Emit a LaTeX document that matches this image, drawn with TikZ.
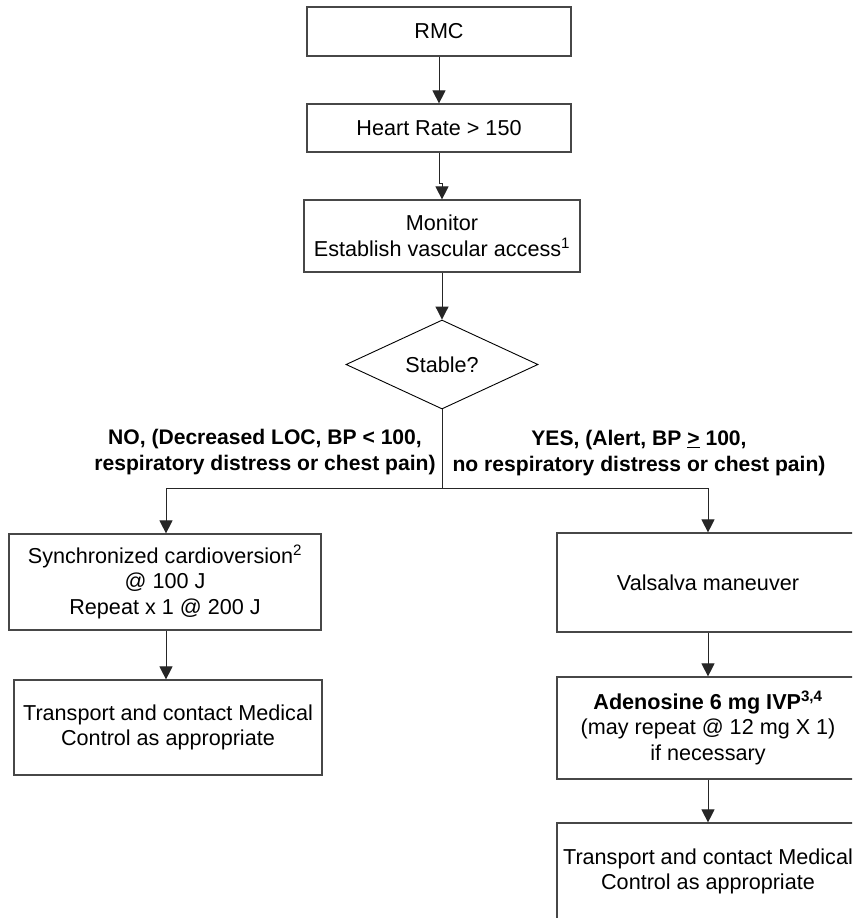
\documentclass[tikz,border=0pt]{standalone}
\usepackage{fontspec}
\setmainfont{Liberation Sans}
\usetikzlibrary{shapes.geometric,arrows.meta}
\newcommand{\mysize}{\fontsize{21.6}{25.5}\selectfont}
\newcommand{\lblsize}{\fontsize{21.1}{26}\selectfont}
\tikzset{
  box/.style={draw=black!72, line width=1.2pt, rectangle, inner sep=0pt, align=center, font=\mysize},
  dia/.style={draw=black, line width=0.9pt, shape=diamond, aspect=2.2, inner sep=0pt,
              minimum width=192pt, minimum height=89pt, font=\mysize},
  lbl/.style={align=center, font=\lblsize\bfseries, inner sep=0pt},
  conn/.style={draw=black!85, line width=1pt},
  arr/.style={conn, -{Triangle[width=13pt,length=13pt]}}
}
\begin{document}
\begin{tikzpicture}[x=1pt,y=-1pt]
\clip (0,0) rectangle (852,918);
\fill[white] (0,0) rectangle (852,918);
\node[box, minimum width=264pt, minimum height=49pt] (rmc) at (439,31.5) {RMC};
\node[box, minimum width=264pt, minimum height=48pt] (hr) at (439,128) {Heart Rate > 150};
\node[box, minimum width=276pt, minimum height=72pt] (mon) at (442,236) {Monitor\\Establish vascular access\textsuperscript{1}};
\node[dia] (st) at (442,364.5) {Stable?};
\node[lbl] (no) at (265,452) {NO, (Decreased LOC, BP < 100,\\respiratory distress or chest pain)};
\node[lbl] (yes) at (639,453) {YES, (Alert, BP \underline{>} 100,\\no respiratory distress or chest pain)};
\node[box, minimum width=312pt, minimum height=96pt] (sync) at (165,582) {Synchronized cardioversion\textsuperscript{2}\\@ 100 J\\Repeat x 1 @ 200 J};
\node[box, minimum width=308pt, minimum height=95pt] (transL) at (168,727.5) {Transport and contact Medical\\Control as appropriate};
\node[box, minimum width=302pt, minimum height=99pt] (vals) at (708,582.5) {Valsalva maneuver};
\node[box, minimum width=302pt, minimum height=102pt] (aden) at (708,728) {\textbf{Adenosine 6 mg IVP\textsuperscript{3,4}}\\(may repeat @ 12 mg X 1)\\if necessary};
\node[box, minimum width=302pt, minimum height=97pt] (transR) at (708,871.5) {Transport and contact Medical\\Control as appropriate};
\coordinate (j) at (442,488);
\coordinate (jl) at (166,488);
\coordinate (jr) at (708,488);
\coordinate (k1) at (439,183);
\coordinate (k2) at (442,183);
\draw[arr] (rmc.south) -- (hr.north);
\draw[arr] (hr.south) -- (k1) -- (k2) -- (mon.north);
\draw[arr] (mon.south) -- (st.north);
\draw[conn] (st.south) -- (j);
\draw[conn] (jl) -- (jr);
\draw[arr] (jl) -- (jl |- sync.north);
\draw[arr] (jr) -- (vals.north);
\draw[arr] (sync.south -| jl) -- (jl |- transL.north);
\draw[arr] (vals.south) -- (aden.north);
\draw[arr] (aden.south) -- (transR.north);
\end{tikzpicture}
\end{document}
